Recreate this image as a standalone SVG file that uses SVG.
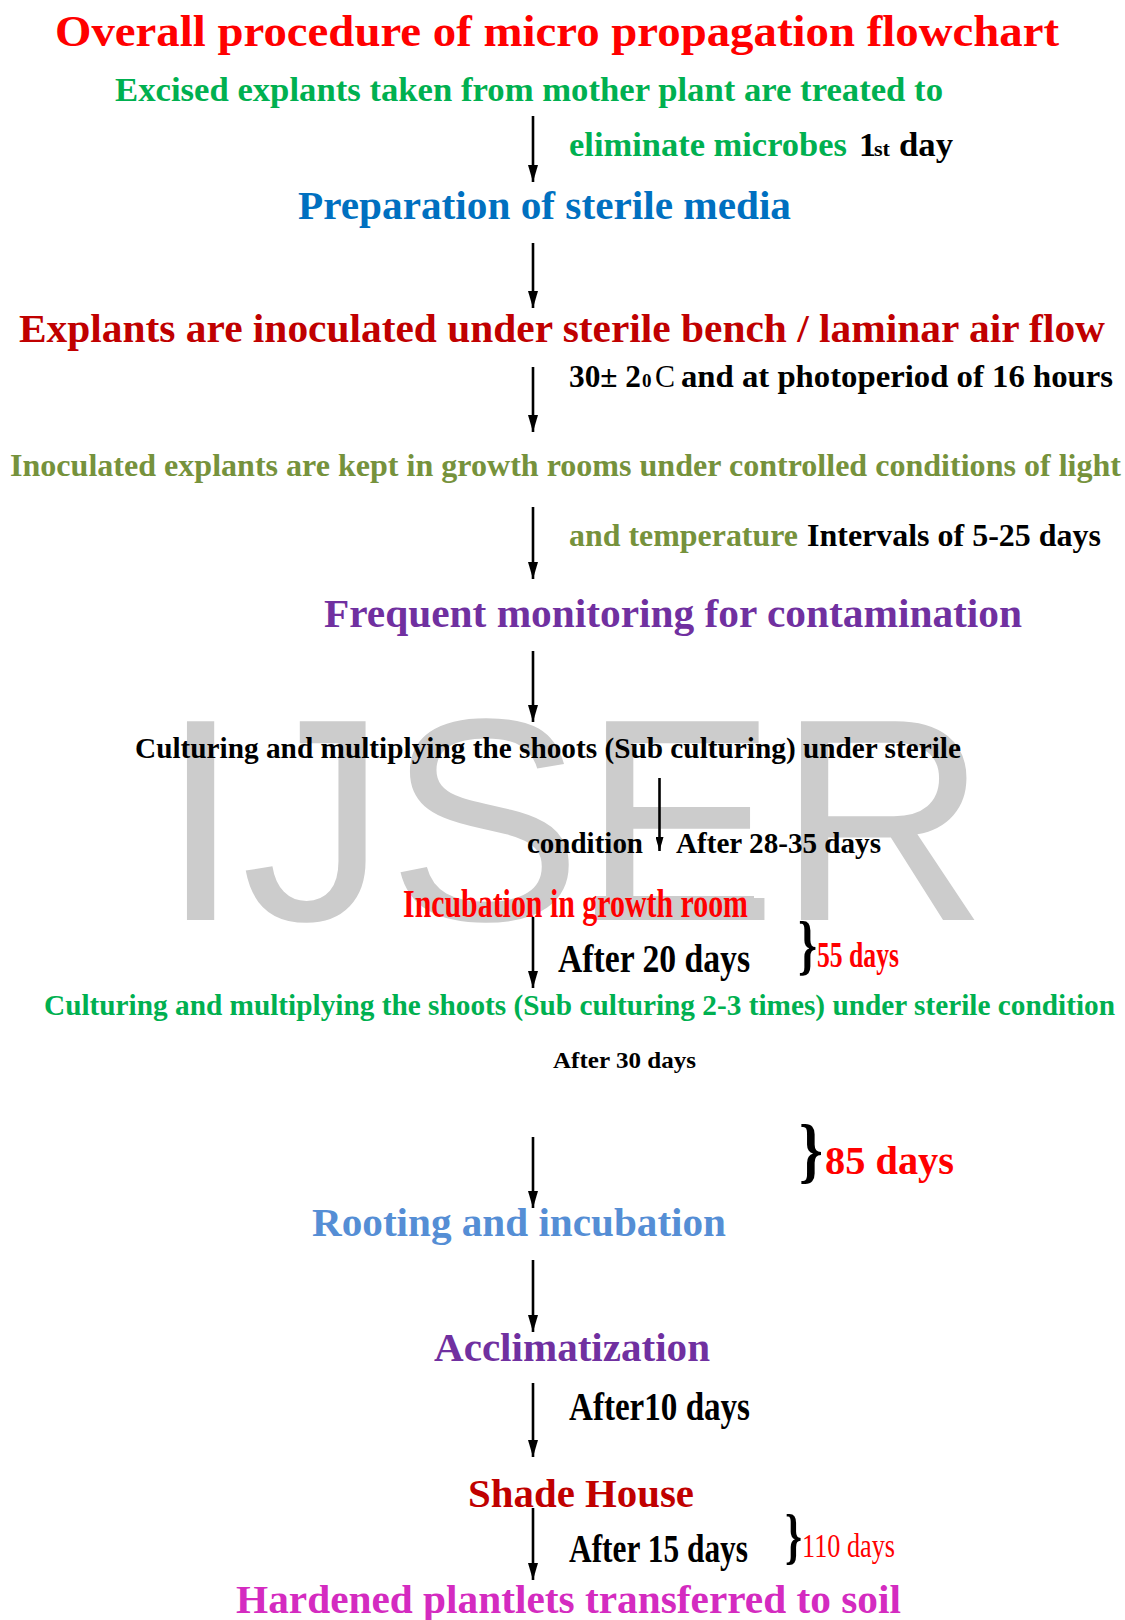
<svg xmlns="http://www.w3.org/2000/svg" width="1125" height="1620" viewBox="0 0 1125 1620">
<style>
  text { font-family: "Liberation Serif", "Times New Roman", serif; }
  .b { font-weight: bold; }
  .n { font-weight: normal; }
  .wm { font-family: "Liberation Sans", Arial, sans-serif; font-size: 289px; fill: #CCCCCC; }
  .arrow { stroke: #000; stroke-width: 2.6; fill: none; }
  .k { fill: #000000; }
  .red { fill: #FF0000; }
  .dred { fill: #C00000; }
  .green { fill: #00B050; }
  .blue { fill: #0070C0; }
  .olive { fill: #76923C; }
  .purple { fill: #7030A0; }
  .lblue { fill: #558ED5; }
  .mag { fill: #D42BC0; }
</style>
<defs>
  <marker id="ah" markerUnits="userSpaceOnUse" markerWidth="17" markerHeight="10" viewBox="0 0 17 10" refX="17" refY="5" orient="auto">
    <path d="M0,0 L17,5 L0,10 z" fill="#000"/>
  </marker>
  <marker id="ahs" markerUnits="userSpaceOnUse" markerWidth="14" markerHeight="8" viewBox="0 0 14 8" refX="14" refY="4" orient="auto">
    <path d="M0,0 L14,4 L0,8 z" fill="#000"/>
  </marker>
</defs>
<rect width="1125" height="1620" fill="#FFFFFF"/>

<g id="watermark">
  <text class="wm" x="160" y="920" textLength="828" lengthAdjust="spacingAndGlyphs">IJSER</text>
  <rect x="595" y="896" width="159" height="24" fill="#CCCCCC"/>
</g>

<g id="connectors">
  <line class="arrow" x1="533" y1="116" x2="533" y2="182" marker-end="url(#ah)"/>
  <line class="arrow" x1="533" y1="243" x2="533" y2="308" marker-end="url(#ah)"/>
  <line class="arrow" x1="533" y1="367" x2="533" y2="432" marker-end="url(#ah)"/>
  <line class="arrow" x1="533" y1="507" x2="533" y2="579" marker-end="url(#ah)"/>
  <line class="arrow" x1="533" y1="651" x2="533" y2="722" marker-end="url(#ah)"/>
  <line class="arrow" x1="659.5" y1="778" x2="659.5" y2="851" marker-end="url(#ahs)"/>
  <line class="arrow" x1="533" y1="917" x2="533" y2="988" marker-end="url(#ah)"/>
  <line class="arrow" x1="533" y1="1137" x2="533" y2="1208" marker-end="url(#ah)"/>
  <line class="arrow" x1="533" y1="1260" x2="533" y2="1332" marker-end="url(#ah)"/>
  <line class="arrow" x1="533" y1="1383" x2="533" y2="1457" marker-end="url(#ah)"/>
  <line class="arrow" x1="533" y1="1508" x2="533" y2="1580" marker-end="url(#ah)"/>
</g>

<g id="title">
  <text class="b red" x="55" y="46" font-size="45" textLength="1004" lengthAdjust="spacingAndGlyphs">Overall procedure of micro propagation flowchart</text>
</g>

<g id="node-excised">
  <text class="b green" x="115" y="101" font-size="34" textLength="828" lengthAdjust="spacingAndGlyphs">Excised explants taken from mother plant are treated to</text>
</g>

<g id="label-1st-day">
  <text class="b green" x="569" y="156" font-size="34" textLength="278" lengthAdjust="spacingAndGlyphs">eliminate microbes</text>
  <text class="b k" x="859" y="156" font-size="34">1</text>
  <text class="b k" x="874" y="156" font-size="22" textLength="16" lengthAdjust="spacingAndGlyphs">st</text>
  <text class="b k" x="899" y="156" font-size="34" textLength="54" lengthAdjust="spacingAndGlyphs">day</text>
</g>

<g id="node-preparation">
  <text class="b blue" x="298" y="219" font-size="40" textLength="493" lengthAdjust="spacingAndGlyphs">Preparation of sterile media</text>
</g>

<g id="node-explants">
  <text class="b dred" x="19" y="342" font-size="41" textLength="1086" lengthAdjust="spacingAndGlyphs">Explants are inoculated under sterile bench / laminar air flow</text>
</g>

<g id="label-temperature">
  <text class="b k" x="569" y="387" font-size="32" textLength="72" lengthAdjust="spacingAndGlyphs">30± 2</text>
  <text class="b k" x="642" y="387" font-size="19">0</text>
  <text class="n k" x="655" y="387" font-size="31" textLength="20" lengthAdjust="spacingAndGlyphs">C</text>
  <text class="b k" x="681" y="387" font-size="32" textLength="432" lengthAdjust="spacingAndGlyphs">and at photoperiod of 16 hours</text>
</g>

<g id="node-inoculated">
  <text class="b olive" x="10" y="476" font-size="32" textLength="1111" lengthAdjust="spacingAndGlyphs">Inoculated explants are kept in growth rooms under controlled conditions of light</text>
</g>

<g id="label-intervals">
  <text class="b olive" x="569" y="546" font-size="32" textLength="229" lengthAdjust="spacingAndGlyphs">and temperature</text>
  <text class="b k" x="807" y="546" font-size="32" textLength="294" lengthAdjust="spacingAndGlyphs">Intervals of 5-25 days</text>
</g>

<g id="node-monitoring">
  <text class="b purple" x="324" y="627" font-size="40" textLength="698" lengthAdjust="spacingAndGlyphs">Frequent monitoring for contamination</text>
</g>

<g id="node-culturing-1">
  <text class="b k" x="135" y="758" font-size="29" textLength="826" lengthAdjust="spacingAndGlyphs">Culturing and multiplying the shoots (Sub culturing) under sterile</text>
  <text class="b k" x="527" y="853" font-size="29" textLength="116" lengthAdjust="spacingAndGlyphs">condition</text>
</g>

<g id="label-28-35">
  <text class="b k" x="676" y="853" font-size="29" textLength="205" lengthAdjust="spacingAndGlyphs">After 28-35 days</text>
</g>

<g id="node-incubation">
  <text class="b red" x="403" y="917" font-size="40" textLength="345" lengthAdjust="spacingAndGlyphs">Incubation in growth room</text>
</g>

<g id="label-20-days">
  <text class="b k" x="558" y="972" font-size="40" textLength="192" lengthAdjust="spacingAndGlyphs">After 20 days</text>
</g>

<g id="brace-55">
  <text class="b k" x="798" y="967" font-size="66" textLength="19" lengthAdjust="spacingAndGlyphs">}</text>
  <text class="b red" x="817" y="967" font-size="35" textLength="82" lengthAdjust="spacingAndGlyphs">55 days</text>
</g>

<g id="node-culturing-2">
  <text class="b green" x="44" y="1015" font-size="29" textLength="1071" lengthAdjust="spacingAndGlyphs">Culturing and multiplying the shoots (Sub culturing 2-3 times) under sterile condition</text>
</g>

<g id="label-30-days">
  <text class="b k" x="553" y="1068" font-size="23" textLength="143" lengthAdjust="spacingAndGlyphs">After 30 days</text>
</g>

<g id="brace-85">
  <text class="b k" x="799" y="1174" font-size="72" textLength="24" lengthAdjust="spacingAndGlyphs">}</text>
  <text class="b red" x="825" y="1174" font-size="39" textLength="129" lengthAdjust="spacingAndGlyphs">85 days</text>
</g>

<g id="node-rooting">
  <text class="b lblue" x="312" y="1236" font-size="40" textLength="414" lengthAdjust="spacingAndGlyphs">Rooting and incubation</text>
</g>

<g id="node-acclimatization">
  <text class="b purple" x="434" y="1361" font-size="40" textLength="276" lengthAdjust="spacingAndGlyphs">Acclimatization</text>
</g>

<g id="label-10-days">
  <text class="b k" x="569" y="1420" font-size="40" textLength="181" lengthAdjust="spacingAndGlyphs">After10 days</text>
</g>

<g id="node-shade-house">
  <text class="b dred" x="468" y="1507" font-size="40" textLength="226" lengthAdjust="spacingAndGlyphs">Shade House</text>
</g>

<g id="label-15-days">
  <text class="b k" x="569" y="1562" font-size="40" textLength="179" lengthAdjust="spacingAndGlyphs">After 15 days</text>
</g>

<g id="brace-110">
  <text class="b k" x="785" y="1557" font-size="61" textLength="17" lengthAdjust="spacingAndGlyphs">}</text>
  <text class="n red" x="802" y="1557" font-size="33" textLength="93" lengthAdjust="spacingAndGlyphs">110 days</text>
</g>

<g id="node-hardened">
  <text class="b mag" x="236" y="1613" font-size="40" textLength="665" lengthAdjust="spacingAndGlyphs">Hardened plantlets transferred to soil</text>
</g>
</svg>
